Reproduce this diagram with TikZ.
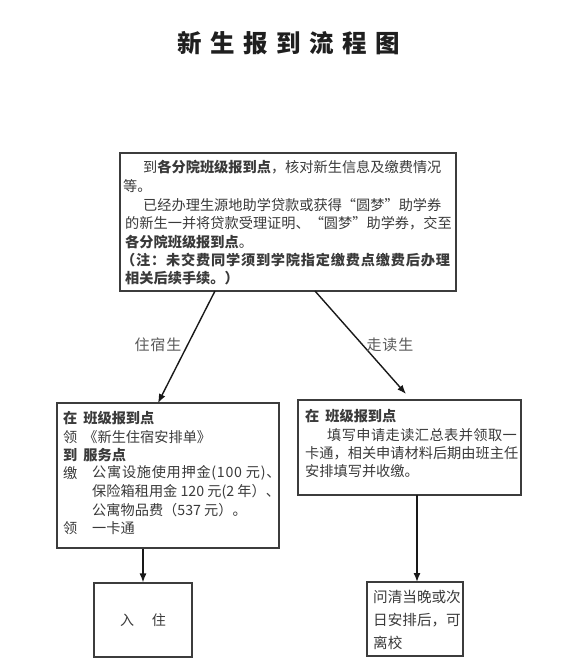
\documentclass[tikz,border=0pt]{standalone}
\usepackage{fontspec}
\setmainfont{Noto Sans CJK SC}
\usetikzlibrary{arrows.meta,calc}
\definecolor{txtc}{HTML}{3A3A3A}
\definecolor{boxc}{HTML}{3C3C3C}
\newcommand{\lsp}[1]{\addfontfeature{LetterSpace=#1}}
\tikzset{
  box/.style={draw=boxc, line width=1.1pt, inner sep=0pt},
  ln/.style={anchor=west, inner sep=0pt, font=\fontsize{14.2}{16}\selectfont, text=txtc},
  arr/.style={-{Latex[length=9pt,width=7pt]}, line width=1.4pt, black!90},
  lbl/.style={inner sep=0pt, font=\fontsize{15}{17}\selectfont, text=black!65},
  ttl/.style={inner sep=0pt, font=\fontsize{24.5}{26}\selectfont\bfseries, text=black!88},
}
\begin{document}
\begin{tikzpicture}[x=1pt,y=-1pt]
\useasboundingbox (0,0) rectangle (581,670);
% title
\node[ttl] (title) at (289,43) {新\hspace{8.5pt}生\hspace{8.5pt}报\hspace{8.5pt}到\hspace{8.5pt}流\hspace{8.5pt}程\hspace{8.5pt}图};
% boxes
\node[box, minimum width=336pt, minimum height=138pt] (top) at (288,222) {};
\node[box, minimum width=222pt, minimum height=145pt] (lbox) at (168,475.5) {};
\node[box, minimum width=223pt, minimum height=95pt] (rbox) at (409.5,447.5) {};
\node[box, minimum width=98pt, minimum height=74pt] (stay) at (143,620) {};
\node[box, minimum width=96pt, minimum height=74pt] (leave) at (415,619) {};
% top box text
\node[ln] (t1) at (143,167) {到\textbf{各分院班级报到点}，核对新生信息及缴费情况};
\node[ln] (t2) at (123,186) {等。};
\node[ln] (t3) at (143,205) {已经办理生源地助学贷款或获得“圆梦”助学券};
\node[ln] (t4) at (125,223) {的新生一并将贷款受理证明、“圆梦”助学券，交至};
\node[ln] (t5) at (125,242) {\textbf{各分院班级报到点}。};
\node[ln] (t6) at (121,260) {\bfseries\lsp{5.5}（注：未交费同学须到学院指定缴费点缴费后办理};
\node[ln] (t7) at (125,278) {\textbf{相关后续手续。）}};
% left box text
\node[ln] (l1) at (63,418) {\textbf{在\hspace{6pt}班级报到点}};
\node[ln] (l2) at (63,437) {领\hspace{6pt}《新生住宿安排单》};
\node[ln] (l3) at (63,455) {\textbf{到\hspace{6pt}服务点}};
\node[ln] (l4a) at (63,473) {缴};
\node[ln] (l4) at (92,473) {\lsp{5}公寓设施使用押金(100 元)、};
\node[ln] (l5) at (92,492) {保险箱租用金 120 元(2 年）、};
\node[ln] (l6) at (92,510) {公寓物品费（537 元）。};
\node[ln] (l7a) at (63,528) {领};
\node[ln] (l7) at (92,528) {一卡通};
% right box text
\node[ln] (r1) at (305,416) {\textbf{在\hspace{6pt}班级报到点}};
\node[ln] (r2) at (327,435) {\lsp{3}填写申请走读汇总表并领取一};
\node[ln] (r3) at (305,453) {卡通，相关申请材料后期由班主任};
\node[ln] (r4) at (305,471) {安排填写并收缴。};
% bottom boxes text
\node[ln, anchor=center, font=\fontsize{14}{16}\selectfont] (s1) at (stay.center) {入\hspace{18pt}住};
\node[ln, font=\fontsize{14.6}{16}\selectfont] (b1) at (373,597) {问清当晚或次};
\node[ln, font=\fontsize{14.6}{16}\selectfont] (b2) at (373,620) {日安排后，可};
\node[ln, font=\fontsize{14.6}{16}\selectfont] (b3) at (373,643) {离校};
% connectors
\coordinate (a1s) at (215,291);
\coordinate (a1e) at (158,403);
\coordinate (a2s) at (315,291);
\coordinate (a2e) at (406,394);
\coordinate (a4s) at (417,495);
\coordinate (a4e) at (417,582);
\draw[arr] (a1s) -- (a1e);
\draw[arr] (a2s) -- (a2e);
\draw[arr] (lbox.south -| stay.north) -- (stay.north);
\draw[arr] (a4s) -- (a4e);
% labels
\node[lbl] (lab1) at (158,345) {住\hspace{1pt}宿\hspace{1pt}生};
\node[lbl] (lab2) at (390,345) {走\hspace{1pt}读\hspace{1pt}生};
\end{tikzpicture}
\end{document}
